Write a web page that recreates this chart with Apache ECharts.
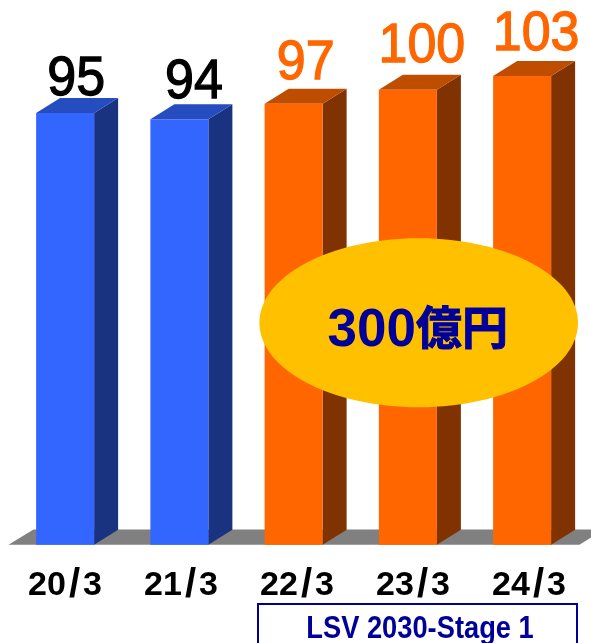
<!DOCTYPE html>
<html>
<head>
<meta charset="utf-8">
<style>
  html, body { margin: 0; padding: 0; background: #fff; }
  #chart { width: 591px; height: 643px; }
</style>
<script src="https://cdn.jsdelivr.net/npm/echarts@6/dist/echarts.min.js"></script>
</head>
<body>
<div id="chart"></div>
<script>
const categories = ['20/3', '21/3', '22/3', '23/3', '24/3'];
const barValues = [94.9, 93.5, 96.9, 100, 103];
const barLabels = ['95', '94', '97', '100', '103'];
const planBars = [false, false, true, true, true];

// hand placed label nudges, the source slide was not regular
const labelDx = [-1, 2.5, 0, 2, 2];
const labelDy = [18.5, 21.5, 25.5, 28.5, 26.5];

const blue = { front: '#3366ff', top: '#264dbf', side: '#1a3380', text: '#000000' };
const orange = { front: '#ff6600', top: '#bf4d00', side: '#803300', text: '#ff6600' };
const navy = '#000099';
const depthX = 24;
const depthY = 15;

function renderBar(params, api) {
  const i = api.value(0);
  const p = api.coord([i, api.value(1)]);
  const base = api.coord([i, 0]);
  const w = api.size([1, 0])[0] * 0.5077;
  const l = p[0] - w / 2;
  const r = p[0] + w / 2;
  const c = planBars[i] ? orange : blue;
  return {
    type: 'group',
    children: [
      {
        type: 'polygon',
        shape: { points: [[r, p[1]], [r + depthX, p[1] - depthY], [r + depthX, base[1] - depthY], [r, base[1]]] },
        style: { fill: c.side }
      },
      {
        type: 'polygon',
        shape: { points: [[l, p[1]], [l + depthX, p[1] - depthY], [r + depthX, p[1] - depthY], [r, p[1]]] },
        style: { fill: c.top }
      },
      {
        type: 'rect',
        shape: { x: l, y: p[1], width: w, height: base[1] - p[1] },
        style: { fill: c.front }
      },
      {
        type: 'text',
        x: p[0] + depthX / 2 + labelDx[i],
        y: p[1] - depthY - labelDy[i],
        scaleY: 1.08,
        style: {
          text: barLabels[i],
          align: 'center',
          verticalAlign: 'middle',
          font: '52px "Liberation Sans"',
          fill: c.text,
          stroke: c.text,
          lineWidth: 1.2
        }
      }
    ]
  };
}

const chart = echarts.init(document.getElementById('chart'), null, { renderer: 'canvas' });

chart.setOption({
  animation: false,
  backgroundColor: '#ffffff',
  grid: [
    { left: 8, right: 11.75, top: 44.2, bottom: 98.3 },
    // tick labels run on a slightly wider step than the bars
    { left: 7, right: 4, top: 44.2, bottom: 98.3 }
  ],
  xAxis: [
    { type: 'category', data: categories, gridIndex: 0, axisLine: { show: false }, axisTick: { show: false }, axisLabel: { show: false } },
    {
      type: 'category',
      data: categories,
      gridIndex: 1,
      axisLine: { show: false },
      axisTick: { show: false },
      axisLabel: {
        interval: 0,
        hideOverlap: false,
        margin: 21,
        color: '#000',
        fontFamily: 'Liberation Sans',
        fontWeight: 'bold',
        fontSize: 34,
        formatter: function (v) {
          return v.replace('/', '{s|/}');
        },
        rich: {
          s: { fontFamily: 'Liberation Sans', fontWeight: 'bold', fontSize: 40, color: '#000', padding: [0, 3, 0, 3] }
        }
      }
    }
  ],
  yAxis: [
    { type: 'value', min: 0, max: 110, gridIndex: 0, show: false },
    { type: 'value', min: 0, max: 110, gridIndex: 1, show: false }
  ],
  series: [
    {
      type: 'custom',
      xAxisIndex: 0,
      yAxisIndex: 0,
      clip: false,
      z: 3,
      renderItem: renderBar,
      encode: { x: 0, y: 1 },
      data: barValues.map(function (v, i) { return [i, v]; })
    }
  ],
  graphic: [
    {
      type: 'polygon',
      z: 1,
      shape: { points: [[8.5, 544.7], [33.5, 529.5], [604, 529.5], [579.5, 544.7]] },
      style: { fill: '#808080' }
    },
    {
      type: 'ellipse',
      z: 10,
      shape: { cx: 418.7, cy: 322.8, rx: 159.3, ry: 84.5 },
      style: { fill: '#ffc000' }
    },
    {
      type: 'text',
      z: 11,
      x: 416,
      y: 331,
      style: {
        text: '300',
        align: 'right',
        verticalAlign: 'middle',
        font: 'bold 53px "Liberation Sans"',
        fill: navy
      }
    },
    {
      type: 'text',
      z: 11,
      x: 416,
      y: 327,
      style: {
        text: '億円',
        align: 'left',
        verticalAlign: 'middle',
        font: 'bold 46px "Noto Sans CJK JP"',
        fill: navy,
        stroke: navy,
        lineWidth: 1
      }
    },
    {
      type: 'rect',
      z: 10,
      shape: { x: 258, y: 604, width: 319, height: 60 },
      style: { fill: '#ffffff', stroke: navy, lineWidth: 2 }
    },
    {
      type: 'text',
      z: 11,
      x: 420,
      y: 629,
      scaleX: 0.88,
      style: {
        text: 'LSV 2030-Stage 1',
        align: 'center',
        verticalAlign: 'middle',
        font: 'bold 31px "Liberation Sans"',
        fill: navy
      }
    }
  ]
});
</script>
</body>
</html>
